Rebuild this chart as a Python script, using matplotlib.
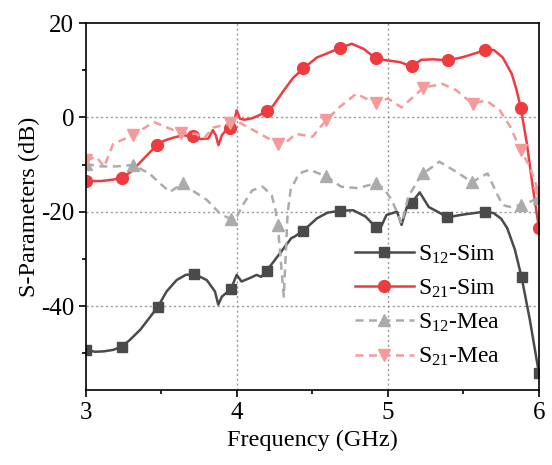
import matplotlib
matplotlib.use("Agg")
import matplotlib.pyplot as plt
from matplotlib.ticker import MultipleLocator

plt.rcParams['font.family'] = ['Liberation Serif', 'DejaVu Serif']
plt.rcParams['mathtext.fontset'] = 'custom'
plt.rcParams['mathtext.rm'] = 'Liberation Serif'
plt.rcParams['mathtext.it'] = 'Liberation Serif:italic'
plt.rcParams['axes.unicode_minus'] = False

# S12 simulated
s12_sim_f = [3.00, 3.06, 3.12, 3.18, 3.236, 3.29, 3.36, 3.42, 3.475, 3.534, 3.60, 3.66,
             3.717, 3.80, 3.854, 3.876, 3.90, 3.96, 3.998, 4.03, 4.09, 4.13, 4.16, 4.197,
             4.285, 4.36, 4.38, 4.44, 4.53, 4.60, 4.68, 4.77, 4.85, 4.918, 4.957, 4.99,
             5.06, 5.09, 5.125, 5.157, 5.21, 5.27, 5.34, 5.39, 5.50, 5.64, 5.70, 5.75,
             5.79, 5.84, 5.885, 5.94, 6.00]
s12_sim_db = [-49.3, -49.7, -49.6, -49.3, -48.6, -47.2, -45.0, -42.5, -40.2, -36.9, -34.5, -33.4,
              -33.2, -34.5, -36.9, -39.7, -38.0, -36.4, -33.4, -34.8, -34.0, -33.4, -33.8, -32.5,
              -28.8, -25.6, -25.3, -24.0, -21.4, -20.2, -19.8, -19.7, -21.0, -23.2, -23.0, -20.7,
              -20.0, -22.8, -19.0, -18.1, -15.9, -19.0, -20.2, -21.2, -20.6, -20.0, -20.3, -21.5,
              -23.5, -28.0, -33.9, -43.0, -54.3]
s12_sim_mk = [3.00, 3.236, 3.475, 3.717, 3.96, 4.197, 4.44, 4.68, 4.918, 5.157, 5.39, 5.64, 5.885, 6.00]

# S21 simulated
s21_sim_f = [3.00, 3.10, 3.18, 3.236, 3.30, 3.36, 3.42, 3.47, 3.52, 3.58, 3.64, 3.71,
             3.76, 3.81, 3.84, 3.86, 3.877, 3.90, 3.93, 3.954, 3.98, 3.998, 4.02, 4.05,
             4.10, 4.15, 4.197, 4.24, 4.31, 4.37, 4.44, 4.53, 4.60, 4.68, 4.76, 4.84,
             4.918, 4.99, 5.08, 5.157, 5.22, 5.30, 5.40, 5.50, 5.64, 5.70, 5.76, 5.82,
             5.85, 5.88, 5.92, 5.96, 6.00]
s21_sim_db = [-13.5, -13.5, -13.2, -12.8, -11.5, -9.5, -7.5, -5.9, -4.9, -4.3, -3.8, -4.0,
              -4.6, -4.5, -2.7, -3.8, -5.9, -3.8, -2.6, -2.2, -1.0, 1.5, -0.3, -0.5,
              -0.2, 0.5, 1.3, 2.5, 5.7, 8.3, 10.4, 12.7, 13.6, 14.7, 15.6, 14.5,
              12.5, 12.1, 11.7, 10.8, 12.2, 12.3, 12.1, 12.8, 14.2, 14.3, 12.7, 9.2,
              6.0, 2.0, -5.6, -15.0, -23.5]
s21_sim_mk = [3.00, 3.236, 3.47, 3.71, 3.954, 4.197, 4.44, 4.68, 4.918, 5.157, 5.40, 5.64, 5.88, 6.00]

# S12 measured
s12_mea_f = [3.00, 3.10, 3.20, 3.31, 3.42, 3.49, 3.556, 3.64, 3.70, 3.80, 3.887, 3.96,
             4.00, 4.04, 4.10, 4.17, 4.23, 4.255, 4.27, 4.31, 4.335, 4.355, 4.41, 4.48,
             4.59, 4.69, 4.80, 4.918, 4.97, 5.025, 5.09, 5.135, 5.20, 5.235, 5.34, 5.45,
             5.555, 5.66, 5.72, 5.76, 5.81, 5.878, 5.94, 6.00]
s12_mea_db = [-9.9, -10.4, -10.4, -10.1, -11.9, -14.0, -15.8, -14.0, -15.4, -17.5, -20.4, -21.6,
              -21.0, -18.5, -15.5, -14.7, -16.5, -19.7, -22.8, -38.0, -20.4, -15.4, -11.9, -11.1,
              -12.5, -14.7, -15.0, -14.0, -15.0, -17.5, -22.5, -16.8, -13.3, -11.9, -9.4, -11.5,
              -13.7, -11.9, -16.1, -18.6, -19.0, -18.6, -17.9, -17.0]
s12_mea_mk = [3.00, 3.31, 3.64, 3.96, 4.27, 4.59, 4.918, 5.235, 5.555, 5.878, 6.00]

# S21 measured
s21_mea_f = [3.00, 3.07, 3.12, 3.18, 3.31, 3.45, 3.556, 3.63, 3.73, 3.78, 3.84, 3.954,
             4.01, 4.17, 4.27, 4.32, 4.39, 4.50, 4.59, 4.68, 4.79, 4.918, 5.00, 5.09,
             5.235, 5.36, 5.45, 5.56, 5.65, 5.74, 5.81, 5.88, 5.94, 6.00]
s21_mea_db = [-9.1, -8.4, -10.5, -5.6, -3.8, -1.0, -2.4, -3.3, -3.5, -4.5, -2.2, -1.3,
              -1.0, -3.8, -5.6, -5.4, -3.5, -4.1, -0.6, 2.2, 5.0, 3.0, 4.0, 2.1,
              6.3, 7.1, 5.8, 2.9, 3.6, 1.5, -2.0, -7.0, -10.5, -16.1]
s21_mea_mk = [3.00, 3.31, 3.63, 3.954, 4.27, 4.59, 4.918, 5.235, 5.56, 5.88, 6.00]

series = [
    (s12_sim_f, s12_sim_db, s12_sim_mk, r'S$_{\mathrm{12}}$-Sim', '#4a4a4a', '-', 's', 7.5),
    (s21_sim_f, s21_sim_db, s21_sim_mk, r'S$_{\mathrm{21}}$-Sim', '#ee3b3f', '-', 'o', 8.5),
    (s12_mea_f, s12_mea_db, s12_mea_mk, r'S$_{\mathrm{12}}$-Mea', '#ababab', '--', '^', 9),
    (s21_mea_f, s21_mea_db, s21_mea_mk, r'S$_{\mathrm{21}}$-Mea', '#f59a9b', '--', 'v', 9),
]

fig = plt.figure(figsize=(5.52, 4.65), dpi=100)
ax = fig.add_axes([0.1558, 0.1613, 0.8206, 0.7892])

for f, db, mk, label, color, ls, marker, ms in series:
    idx = [f.index(m) for m in mk]
    line, = ax.plot(f, db, color=color, linestyle=ls, lw=1.8, marker=marker,
                    markersize=ms, markevery=idx, label=label)
    if ls == '--':
        line.set_dashes((3.2, 2.2))

ax.set_xlim(3, 6)
ax.set_ylim(-57.8, 20)
ax.xaxis.set_major_locator(MultipleLocator(1))
ax.xaxis.set_minor_locator(MultipleLocator(0.5))
ax.yaxis.set_major_locator(MultipleLocator(20))
ax.yaxis.set_minor_locator(MultipleLocator(10))

# dotted reference grid on the inner major ticks
for x in [4, 5]:
    ax.axvline(x, color='#999999', ls=(0, (1.5, 2)), lw=1.0, zorder=0)
for y in [0, -20, -40]:
    ax.axhline(y, color='#999999', ls=(0, (1.5, 2)), lw=1.0, zorder=0)

ax.tick_params(which='major', direction='out', length=5, width=1.2, labelsize=18)
ax.tick_params(which='minor', direction='out', length=3, width=1.2)
for sp in ax.spines.values():
    sp.set_linewidth(1.2)

ax.set_xlabel('Frequency (GHz)', fontsize=17.5)
ax.set_ylabel('S-Parameters (dB)', fontsize=17.5, labelpad=1)

ax.legend(loc='upper left', bbox_to_anchor=(0.572, 0.425), frameon=False, fontsize=17,
          handlelength=2.5, handletextpad=0.2, labelspacing=0.5, borderaxespad=0)

fig.savefig('out.png', dpi=100)
